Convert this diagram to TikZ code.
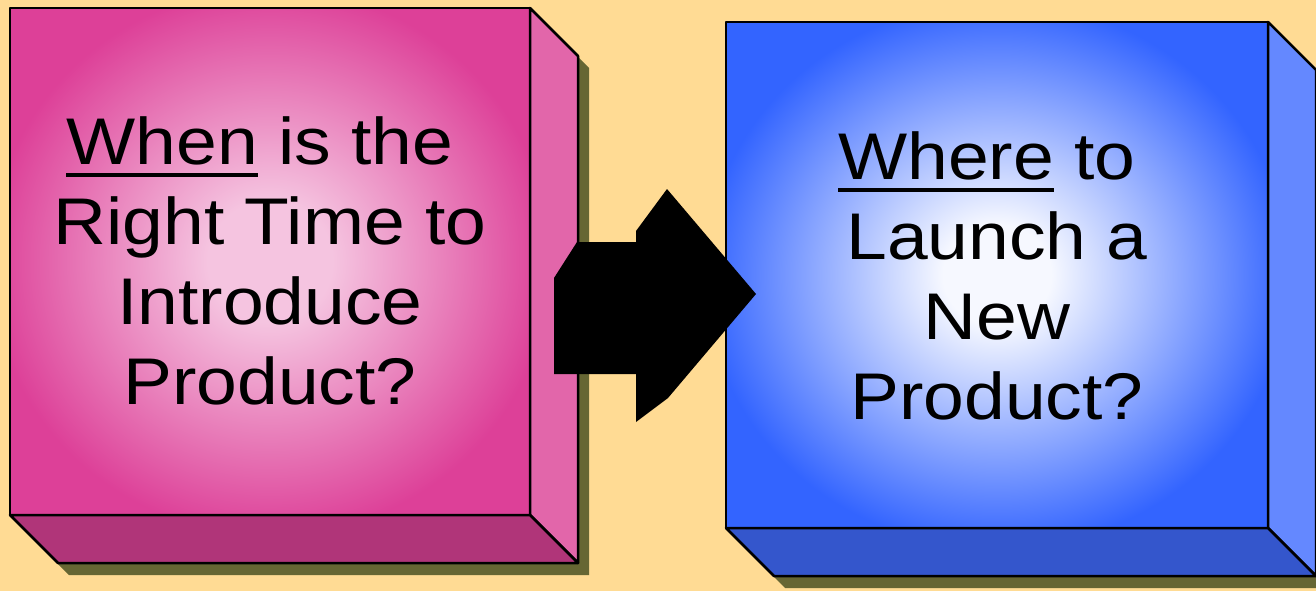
\documentclass[tikz,border=0pt]{standalone}
\usepackage{fontspec}
\setmainfont{Liberation Sans}
\usetikzlibrary{positioning}

\definecolor{sand}{RGB}{255,219,148}
\definecolor{shadowolive}{RGB}{102,102,51}
\definecolor{edgepink}{RGB}{221,64,152}
\definecolor{midpink}{RGB}{245,196,224}
\definecolor{sidepink}{RGB}{226,102,170}
\definecolor{floorpink}{RGB}{176,53,121}
\definecolor{edgeblue}{RGB}{51,100,255}
\definecolor{midblue}{RGB}{246,248,255}
\definecolor{sideblue}{RGB}{100,136,255}
\definecolor{floorblue}{RGB}{52,86,204}

\pgfdeclareradialshading{boxpink}{\pgfpoint{0bp}{0bp}}{color(0bp)=(midpink); color(6bp)=(midpink); color(27bp)=(edgepink); color(50bp)=(edgepink)}
\pgfdeclareradialshading{boxblue}{\pgfpoint{0bp}{0bp}}{color(0bp)=(midblue); color(5bp)=(midblue); color(27bp)=(edgeblue); color(50bp)=(edgeblue)}

\newcommand{\ulword}[1]{\setbox0\hbox{#1}\rlap{\rule[-12pt]{\wd0}{4pt}}#1}
\newcommand{\tsp}{\hspace*{0.278em}}

\tikzset{
  edge line/.style={draw=black,line width=2.5pt,line join=round},
  box text/.style={align=center,font=\fontsize{66}{80}\selectfont,inner sep=0pt,xscale=1.11,transform shape}
}

\begin{document}
\begin{tikzpicture}[x=1pt,y=-1pt]
\useasboundingbox (0,0) rectangle (1316,591);
\fill[sand] (0,0) rectangle (1316,591);
\foreach \xa/\ya/\xb/\yb/\c in {10/8/530/515/pink,726/22/1268/528/blue}{
  \fill[shadowolive,shift={(11,12)}] (\xa,\ya) -- (\xb,\ya) -- (\xb+48,\ya+48) -- (\xb+48,\yb+48) -- (\xa+48,\yb+48) -- (\xa,\yb) -- cycle;
  \shade[shading=box\c] (\xa,\ya) rectangle (\xb,\yb);
  \draw[edge line] (\xa,\ya) rectangle (\xb,\yb);
  \draw[edge line,fill=side\c] (\xb,\ya) -- (\xb+48,\ya+48) -- (\xb+48,\yb+48) -- (\xb,\yb) -- cycle;
  \draw[edge line,fill=floor\c] (\xa,\yb) -- (\xb,\yb) -- (\xb+48,\yb+48) -- (\xa+48,\yb+48) -- cycle;
}
\fill[black] (667,189) -- (756,294) -- (668,398) -- (636,422) -- (636,374) -- (554,374)
  -- (554,278) -- (577,242) -- (636,242) -- (636,231) -- cycle;
\node[box text] (whenq) at (270,261) {\ulword{When} is the\tsp\\Right Time to\\Introduce\\Product?};
\node[box text] (whereq) at (997,276) {\ulword{Where} to\tsp\\Launch a\\New\tsp\\Product?};
\end{tikzpicture}
\end{document}
